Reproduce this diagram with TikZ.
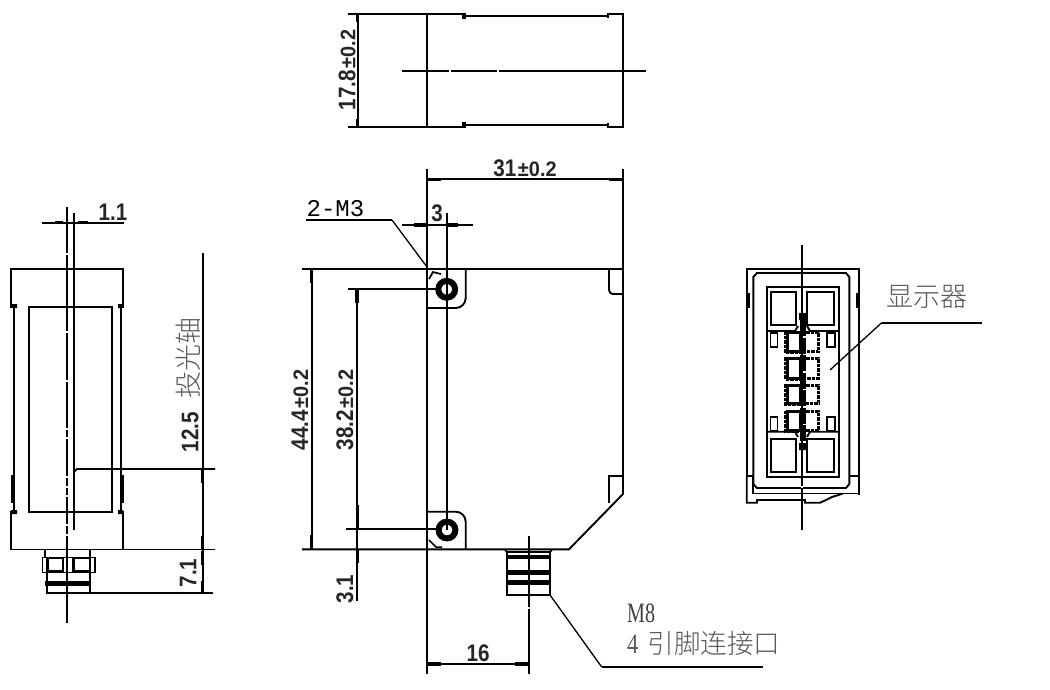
\documentclass[tikz,border=0pt]{standalone}
\usepackage{fontspec}
\setmainfont{Liberation Sans}
\newfontfamily\cjk{Noto Sans CJK SC Light}
\newfontfamily\monof{Liberation Mono}
\newfontfamily\serf{Liberation Serif}
\newcommand{\fz}[1]{\fontsize{#1}{#1}\selectfont}
\newcommand{\dm}[1]{\scalebox{.86}[1]{\fz{24}\bfseries #1}}
\newcommand{\tl}[1]{\scalebox{.95}[1]{\fz{21}\bfseries #1}}
\tikzset{
  ln/.style={line width=1.9pt,black,line cap=butt},
  thin ln/.style={line width=1.3pt,black},
  tick/.style={line width=3.4pt,black},
  gap/.style={line width=2.2pt,white},
  dimtxt/.style={inner sep=0pt,text=black!85},
  cjktxt/.style={inner sep=0pt,text=black!65},
  dig/.style={line width=3pt,black,dash pattern=on 3.5pt off 1pt},
}
\begin{document}
\begin{tikzpicture}[x=1pt,y=-1pt]
\fill[white] (0,0) rectangle (1050,689);
\useasboundingbox (0,0) rectangle (1050,689);

% ---------- Top view
\draw[ln] (348,14) -- (463,14);
\draw[ln] (348,126.7) -- (463,126.7);
\draw[ln] (463,16) -- (608,16);
\draw[ln] (463,125) -- (608,125);
\draw[ln] (608,18) -- (608,14) -- (623,14) -- (623,127) -- (608,127) -- (608,123);
\draw[ln] (357.7,14) -- (357.7,127);
\draw[ln] (427,14) -- (427,127);
\draw[ln] (402,71.3) -- (646,71.3);
\draw[gap] (449,71.3) -- (451,71.3) (497,71.3) -- (499,71.3);
\foreach \p in {(463.5,16),(463.5,125)} \fill \p +(-2,-3) rectangle +(2,3);
\draw[tick] (357.5,15) -- (357.5,22) (357.5,119) -- (357.5,126);
\node[dimtxt,rotate=90] (t178) at (347,70) {\dm{17.8}\,\tl{±0.2}};

% ---------- Left view
\draw[ln] (12,307) -- (11,307) -- (11,269) -- (123,269) -- (123,307) -- (122,307);
\draw[ln] (12,511.7) -- (11,511.7) -- (11,549.5) -- (123,549.5) -- (123,511.7) -- (122,511.7);
\draw[ln] (14,307) -- (14,511.7) (120.7,307) -- (120.7,511.7);
\draw[ln] (29.3,307) rectangle (111.7,511.7);
\draw[tick] (12.5,475) -- (12.5,503) (122,475) -- (122,503);
\fill (11,304) rectangle (17,308) (118,304) rectangle (123,308) (11,510) rectangle (17,514) (118,510) rectangle (123,514);
\draw[ln] (67.3,207) -- (67.3,623);
\draw[gap] (67.3,253) -- (67.3,255) (67.3,331) -- (67.3,333) (67.3,380) -- (67.3,382) (67.3,428) -- (67.3,430) (67.3,437) -- (67.3,439) (67.3,476) -- (67.3,478) (67.3,486) -- (67.3,488) (67.3,495) -- (67.3,497) (67.3,524) -- (67.3,526) (67.3,534) -- (67.3,536);
\draw[ln] (73.7,213) -- (73.7,530);
\draw[ln] (41.7,222.7) -- (124,222.7);
\draw[tick] (55,222.2) -- (63,222.2) (78,222.2) -- (88,222.2);
\node[dimtxt] (t11) at (113,212) {\dm{1.1}};
\draw[ln] (202.7,253) -- (202.7,593);
\draw[ln] (73.7,472) -- (77,469) -- (215,469);
\draw[ln] (123,549.5) -- (215,549.5);
\draw[ln] (90,593) -- (213,593);
\draw[tick] (202.7,470) -- (202.7,483) (202.7,536) -- (202.7,549) (202.7,551) -- (202.7,565) (202.7,581) -- (202.7,592);
\node[dimtxt,rotate=90] (t125) at (190,432) {\dm{12.5}};
\node[cjktxt,rotate=90,font=\cjk\fz{27}] (ttou) at (188,358) {投光轴};
\node[dimtxt,rotate=90] (t71) at (188,573) {\dm{7.1}};
% left connector
\draw[ln] (45,549.5) -- (45,557) (90,549.5) -- (90,557);
\draw[ln] (42.5,557.5) rectangle (95,572.5);
\draw[line width=2.6pt] (47.5,558) rectangle (63,571.5);
\draw[line width=2.6pt] (73.5,558) rectangle (90,571.5);
\draw[ln] (47,572.5) -- (47,581) (90,572.5) -- (90,593);
\draw[line width=5.5pt] (44.5,583.5) -- (90,583.5);
\draw[ln] (47,586) -- (47,593) -- (90,593);

% ---------- Centre view
\draw[ln] (302,269) -- (623,269) -- (623,494) -- (569,549.3) -- (302,549.3);
\draw[ln] (427,169) -- (427,674);
\draw[ln] (623,169) -- (623,269);
\draw[ln] (427,179.3) -- (623,179.3);
\draw[tick] (427,179.3) -- (441,179.3) (609,179.3) -- (623,179.3);
\node[dimtxt] (t31) at (525,168) {\dm{31}\,\tl{±0.2}};
\draw[ln] (447.3,213) -- (447.3,530);
\draw[ln] (401.7,225) -- (472.7,225);
\draw[tick] (414,225) -- (427,225) (447.5,225) -- (458,225);
\node[dimtxt] (t3) at (437,213) {\dm{3}};
\node[inner sep=0pt,font=\monof\fz{24},text=black] (tm3) at (335.5,209) {2-M3};
\draw[ln] (306,220) -- (392,220);
\draw[thin ln] (392,220) -- (427,267);
% tabs
\draw[ln,rounded corners=10pt] (465.7,269) -- (465.7,308) -- (427,308);
\draw[ln,rounded corners=10pt] (465.7,549.3) -- (465.7,511.7) -- (427,511.7);
\draw[line width=1.7pt] (429,279) -- (433,272) -- (441,274);
\draw[line width=1.5pt] (429,540) -- (436,547) -- (442,547);
\draw[line width=6pt] (446.7,289.3) circle (8.4);
\draw[line width=6pt] (447,530) circle (8.4);
\draw[ln] (348,289.3) -- (436,289.3);
\draw[ln] (346,529.3) -- (436,529.3);
\draw[ln] (311.7,269) -- (311.7,549);
\draw[tick] (311.7,270) -- (311.7,283) (311.7,535) -- (311.7,549);
\draw[ln] (357,289.3) -- (357,601);
\draw[tick] (357,290) -- (357,303) (357.5,505) -- (357.5,529) (357.5,550) -- (357.5,563);
\draw[ln,rounded corners=4pt] (609,269) -- (609,294) -- (623,294);
\draw[ln] (623,476) -- (609,476) -- (609,503);
\node[dimtxt,rotate=90] (t444) at (300,410) {\dm{44.4}\,\tl{±0.2}};
\node[dimtxt,rotate=90] (t382) at (345,410) {\dm{38.2}\,\tl{±0.2}};
\node[dimtxt,rotate=90] (t31b) at (345,589) {\dm{3.1}};
% connector
\draw[ln] (506.7,552) rectangle (550,595);
\draw[ln] (505,549.3) -- (506.7,552) (552,549.3) -- (550,552);
\draw[line width=3.4pt] (506.7,557) -- (550,557);
\draw[line width=5.5pt] (506.7,572.7) -- (550,572.7) (506.7,582.7) -- (550,582.7);
\draw[ln] (529.3,536) -- (529.3,674);
\draw[gap] (529.3,607) -- (529.3,609);
\draw[ln] (427,664) -- (529.3,664);
\draw[tick] (427,664) -- (441,664) (515,664) -- (529.3,664);
\node[dimtxt] (t16) at (478,653) {\dm{16}};
\draw[thin ln] (550,595) -- (601.7,667);
\draw[ln] (601.7,667) -- (763,667);
\node[cjktxt,anchor=west,text=black!75] (tm8) at (627,613) {\scalebox{.72}[1]{\serf\fz{28}M8}};
\node[cjktxt,anchor=west] (tconn) at (627,643) {\scalebox{.8}[1]{\serf\fz{28}4}\hspace{9pt}{\cjk\fz{26.6}引脚连接口}};

% ---------- Right view
\draw[ln] (746.7,476) -- (746.7,269) -- (859,269) -- (859,495);
\draw[ln] (746.7,476) -- (746.7,502.7) -- (757,502.7) -- (757,500) -- (805,500) -- (805,502.7) -- (820,502.7) -- (826,500) -- (832,497) -- (843,493.5);
\draw[ln] (753,493.5) -- (859,493.5);
\draw[ln] (753.3,277) -- (753.3,484) -- (757,488) -- (846,488) -- (849.3,484) -- (849.3,277) -- (846,273) -- (757,273) -- cycle;
\draw[ln] (746.7,476) -- (753.3,476) (849.3,476) -- (859,476);
\draw[ln] (753,476) -- (753,493.5);
\draw[tick] (748,293) -- (748,308) (857.5,293) -- (857.5,308);
\draw[ln] (766.7,286.7) rectangle (838.7,476.7);
\draw[ln] (771,291.7) rectangle (795.7,325);
\draw[ln] (807,291.7) rectangle (834,325);
\draw[ln] (771,439) rectangle (795.7,471.7);
\draw[ln] (807,439) rectangle (834,471.7);
\draw[ln] (766.7,331) -- (795,331) -- (798,326);
\draw[ln] (838.7,331) -- (810,331) -- (807,326);
\draw[ln] (766.7,431.7) -- (795,431.7) -- (798,437);
\draw[ln] (838.7,431.7) -- (810,431.7) -- (807,437);
\draw[ln] (770.5,333) rectangle (777.5,346.7);
\draw[ln] (827,333) rectangle (835,346.7);
\draw[ln] (770.5,416.7) rectangle (777.5,430.7);
\draw[ln] (827,416.7) rectangle (835,430.7);
\foreach \a/\b in {332/351.7,358/378,385/403,411.7/430.7}{
  \draw[line width=3pt] (787,\a) rectangle (800,\b);
  \draw[dig] (785,\a-1) -- (785,\b+1) -- (801,\b+1);
  \draw[dig] (806,\a) -- (818.5,\a) -- (818.5,\b) -- (806,\b);
}
\draw[ln] (802.3,245) -- (802.3,530);
\draw[gap] (802.3,486) -- (802.3,488);
\draw[line width=6pt,dash pattern=on 16pt off 1.5pt] (802.5,320) -- (802.5,444);
\fill (799,313) rectangle (806,320) (799,443) rectangle (806,450);
\node[cjktxt,font=\cjk\fz{27}] (tdisp) at (926.7,296.7) {显示器};
\draw[thin ln] (830,370) -- (881.7,322.7);
\draw[ln] (881.7,322.7) -- (981.7,322.7);
\end{tikzpicture}
\end{document}
